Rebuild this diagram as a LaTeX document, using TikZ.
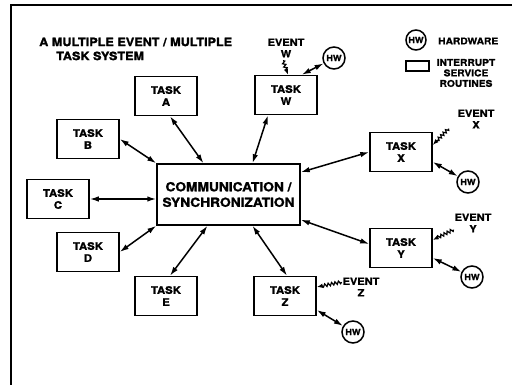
\documentclass[tikz,border=0pt]{standalone}
\usepackage{fontspec}
\setsansfont[FakeStretch=1.1,FakeBold=1.5]{TeX Gyre Heros}
\usetikzlibrary{arrows.meta,calc,decorations.pathmorphing}

\begin{document}
\begin{tikzpicture}[x=1pt,y=-1pt,
  taskbox/.style={draw=black,line width=1.5pt,fill=white,minimum width=62pt,
    minimum height=39pt,inner sep=1pt,align=center,
    font=\sffamily\bfseries\fontsize{10.3}{12}\selectfont},
  syncbox/.style={taskbox,minimum width=143pt,minimum height=61pt,
    font=\sffamily\bfseries\fontsize{12.5}{15.5}\selectfont},
  hwcircle/.style={draw=black,circle,line width=1.5pt,fill=white,
    minimum size=22pt,inner sep=0pt,
    font=\sffamily\bfseries\fontsize{8.3}{9}\selectfont},
  eventlabel/.style={align=center,inner sep=1pt,
    font=\sffamily\bfseries\fontsize{10}{11.5}\selectfont},
  legendtext/.style={inner sep=1pt,
    font=\sffamily\bfseries\fontsize{9.3}{10.5}\selectfont},
  isrkey/.style={draw=black,line width=1.2pt,minimum width=23pt,
    minimum height=10pt,inner sep=0pt},
  syncflow/.style={{Latex[length=9pt,width=5.5pt]}-{Latex[length=9pt,width=5.5pt]},
    line width=1.5pt},
  eventwave/.style={-{Latex[length=6pt,width=4.5pt]},line width=1.2pt,decorate,
    decoration={snake,amplitude=1.5pt,segment length=3.5pt,post length=5pt}}
]
  \useasboundingbox (0,0) rectangle (512,385);
  % frame
  \draw[line width=2pt] (11,385) -- (11,5) -- (512,5);
  \node[anchor=west,align=left,inner sep=0pt,
    font=\sffamily\bfseries\fontsize{11.5}{14}\selectfont] (title) at (39,49)
    {A MULTIPLE EVENT / MULTIPLE\\\hspace{17pt}TASK SYSTEM};

  % legend
  \node[hwcircle,minimum size=20pt] (hwkey) at (416,40) {HW};
  \node[legendtext,anchor=west] (hwkeytext) at (437,41) {HARDWARE};
  \node[isrkey] (isrkey) at (417.5,66) {};
  \node[legendtext,align=center] (isrkeytext) at (466,73)
    {INTERRUPT\\SERVICE\\ROUTINES};

  % tasks
  \node[syncbox] (sync) at (228.5,194.5) {COMMUNICATION /\\SYNCHRONIZATION};
  \node[taskbox] (taska) at (166,96) {TASK\\A};
  \node[taskbox] (taskw) at (286,95) {TASK\\W};
  \node[taskbox] (taskb) at (88,139) {TASK\\B};
  \node[taskbox] (taskc) at (58,199) {TASK\\C};
  \node[taskbox] (taskd) at (88,252) {TASK\\D};
  \node[taskbox] (taske) at (166,296) {TASK\\E};
  \node[taskbox] (taskz) at (285,296) {TASK\\Z};
  \node[taskbox] (taskx) at (401,152) {TASK\\X};
  \node[taskbox] (tasky) at (401,248) {TASK\\Y};

  % hardware
  \node[hwcircle] (hww) at (334,58) {HW};
  \node[hwcircle] (hwx) at (468,182) {HW};
  \node[hwcircle] (hwy) at (472,277) {HW};
  \node[hwcircle] (hwz) at (353,332) {HW};

  % events
  \node[eventlabel] (eventw) at (286,48) {EVENT\\W};
  \node[eventlabel] (eventx) at (476,119) {EVENT\\X};
  \node[eventlabel] (eventy) at (473,223) {EVENT\\Y};
  \node[eventlabel] (eventz) at (361,287) {EVENT\\Z};

  \draw[syncflow] ([xshift=4pt]taska.south) -- ([xshift=-25pt]sync.north);
  \draw[syncflow] ([xshift=-18pt]taskw.south) -- ([xshift=24pt]sync.north);
  \draw[syncflow] (taskb.east) -- (sync.north west);
  \draw[syncflow] (taskc.east) -- (taskc.east -| sync.west);
  \draw[syncflow] (taskd.east) -- (sync.south west);
  \draw[syncflow] ([xshift=4pt]taske.north) -- ([xshift=-21pt]sync.south);
  \draw[syncflow] ([xshift=2pt]taskz.north) -- ([xshift=24pt]sync.south);
  \draw[syncflow] (taskx.west) -- ([yshift=-9pt]sync.north east);
  \draw[syncflow] ([yshift=4pt]tasky.west) -- ([yshift=6pt]sync.south east);

  \draw[syncflow] ([xshift=-16pt]taskw.north east) -- (hww);
  \draw[syncflow] ([yshift=-10pt]taskx.east) -- (hwx);
  \draw[syncflow] ([yshift=-10pt]tasky.east) -- (hwy);
  \draw[syncflow] ([yshift=-14pt]taskz.east) -- (hwz);

  \draw[eventwave] ([xshift=-3pt,yshift=-2pt]eventw.south)
    -- ([xshift=2pt]taskw.north);
  \draw[eventwave] ([xshift=-8pt,yshift=1pt]eventx.south west)
    -- ([yshift=7pt]taskx.east);
  \draw[eventwave] ([yshift=4pt]eventy.south west)
    -- ([yshift=8pt]tasky.east);
  \draw[eventwave] ([yshift=5pt]eventz.west) -- ([yshift=9pt]taskz.east);
\end{tikzpicture}
\end{document}
